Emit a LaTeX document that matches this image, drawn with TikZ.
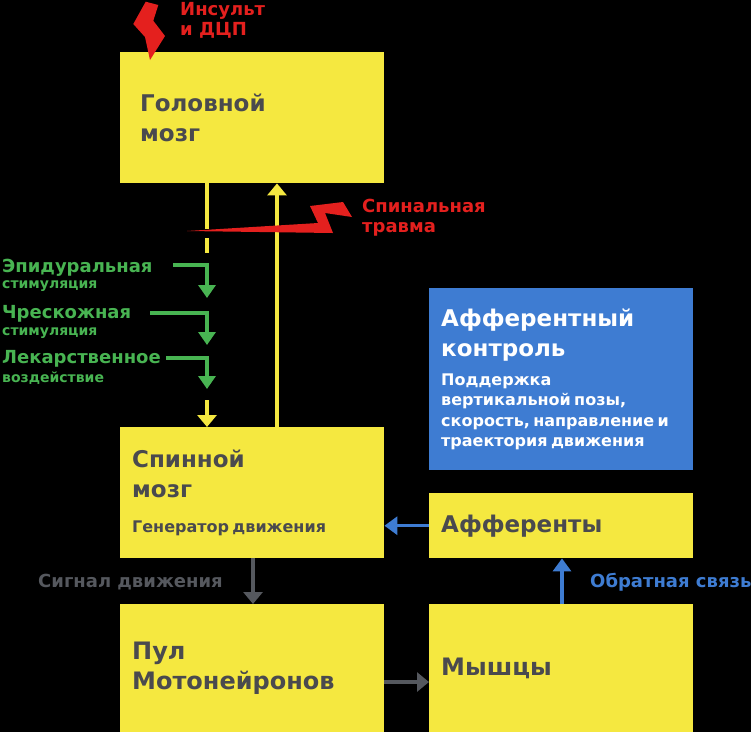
\documentclass[tikz,border=0pt]{standalone}
\usepackage{fontspec}
\setmainfont{DejaVu Sans}
\usetikzlibrary{arrows.meta}
\definecolor{boxyellow}{RGB}{245,232,64}
\definecolor{boxtext}{RGB}{74,74,78}
\definecolor{ctrlblue}{RGB}{62,124,210}
\definecolor{stimgreen}{RGB}{72,180,82}
\definecolor{injred}{RGB}{228,32,30}
\definecolor{siggrey}{RGB}{85,88,94}
\newcommand{\blocktitle}{\fontsize{23}{30}\selectfont}
\newcommand{\lowtitle}{\fontsize{24}{30}\selectfont}
\newcommand{\blocksub}{\fontsize{16}{19}\selectfont}
\newcommand{\ctrlsub}{\fontsize{16}{20.5}\selectfont}
\tikzset{
  ybox/.style={fill=boxyellow,text=boxtext,anchor=north west,minimum width=264pt,
    text width=240pt,inner xsep=12pt,inner ysep=0pt,align=left,font=\bfseries},
  bbox/.style={ybox,fill=ctrlblue,text=white},
  stimbig/.style={anchor=base west,inner sep=0pt,text=stimgreen,font=\bfseries\fontsize{18}{20}\selectfont},
  stimsmall/.style={anchor=base west,inner sep=0pt,text=stimgreen,font=\bfseries\fontsize{14}{15}\selectfont},
  injury/.style={anchor=base west,inner sep=0pt,text=injred,font=\bfseries\fontsize{18}{20}\selectfont},
  flowlabel/.style={anchor=base west,inner sep=0pt,font=\bfseries\fontsize{18}{20}\selectfont},
  yline/.style={draw=boxyellow,line width=4pt},
  ytip/.style={-{Triangle[width=19pt,length=12pt]}},
  garrow/.style={draw=stimgreen,line width=3.5pt,-{Triangle[width=17pt,length=13pt]}},
  sarrow/.style={draw=siggrey,line width=3.5pt,-{Triangle[width=19pt,length=12pt]}},
  barrow/.style={draw=ctrlblue,line width=3.5pt,-{Triangle[width=18pt,length=13pt]}}
}
\begin{document}
\begin{tikzpicture}[x=1pt,y=-1pt]
\fill[black] (0,0) rectangle (751,732);
\useasboundingbox (0,0) rectangle (751,732);
% blocks
\node[ybox,inner xsep=20pt,text width=224pt,minimum height=131pt] (brain) at (120,52) {\blocktitle Головной\\мозг\par};
\node[ybox,minimum height=131pt] (spinal) at (120,427) {\blocktitle Спинной\\мозг\par\vspace{16pt}{\blocksub Генератор движения\par}};
\node[ybox,minimum height=128pt] (pool) at (120,604) {\lowtitle Пул\\Мотонейронов\par};
\node[ybox,minimum height=128pt] (muscle) at (429,604) {\lowtitle Мышцы\par};
\node[ybox,minimum height=65pt] (afferent) at (429,493) {\blocktitle Афференты\par};
\node[bbox,minimum height=182pt] (control) at (429,288) {\blocktitle Афферентный\\контроль\par\vspace{8.5pt}{\ctrlsub Поддержка\\вертикальной позы,\\скорость, направление и\\траектория движения\par}};
% brain <-> spinal cord
\coordinate (dn) at (207,0);
\coordinate (up) at (277,0);
\coordinate (cut1) at (207,229);
\coordinate (dash1) at (207,238);
\coordinate (dash2) at (207,253);
\coordinate (dash3) at (207,400);
\draw[yline] (brain.south -| dn) -- (cut1);
\draw[yline] (dash1) -- (dash2);
\draw[yline,ytip] (dash3) -- (spinal.north -| dn);
\draw[yline,ytip] (spinal.north -| up) -- (brain.south -| up);
% stimulation
\node[stimbig] (epi) at (2,272) {Эпидуральная};
\node[stimsmall] (episub) at (2,288) {стимуляция};
\node[stimbig] (trans) at (2,318) {Чрескожная};
\node[stimsmall] (transsub) at (2,335) {стимуляция};
\node[stimbig] (drug) at (2,363) {Лекарственное};
\node[stimsmall] (drugsub) at (2,382) {воздействие};
\coordinate (g1s) at (173,265); \coordinate (g1e) at (207,298);
\coordinate (g2s) at (150,313); \coordinate (g2e) at (207,345);
\coordinate (g3s) at (166,358); \coordinate (g3e) at (207,389);
\draw[garrow] (g1s) -| (g1e);
\draw[garrow] (g2s) -| (g2e);
\draw[garrow] (g3s) -| (g3e);
% injuries
\fill[injred] (145.7,1.7) -- (158.3,5) -- (153.3,20.7) -- (165,36) -- (150,60) -- (145,37) -- (133.3,24) -- cycle;
\node[injury] (stroke) at (180,15) {Инсульт};
\node[injury] (stroke2) at (180,35) {и ДЦП};
\fill[injred] (187,231) -- (318,223) -- (310,206) -- (343,202) -- (352,217) -- (325,213) -- (333,233) -- cycle;
\node[injury] (trauma) at (362,212) {Спинальная};
\node[injury] (trauma2) at (362,232) {травма};
% motor signal and feedback
\coordinate (sig) at (253,0);
\coordinate (hz) at (0,682);
\coordinate (fb) at (562,0);
\draw[sarrow] (spinal.south -| sig) -- (pool.north -| sig);
\draw[sarrow] (pool.east |- hz) -- (muscle.west |- hz);
\draw[barrow] (afferent.west) -- (spinal.east |- afferent.west);
\draw[barrow] (muscle.north -| fb) -- (afferent.south -| fb);
\node[flowlabel,text=siggrey] (signal) at (38,587) {Сигнал движения};
\node[flowlabel,text=ctrlblue] (feedback) at (590,587) {Обратная связь};
\end{tikzpicture}
\end{document}
